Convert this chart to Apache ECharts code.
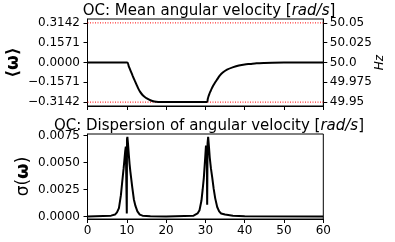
<!DOCTYPE html>
<html><head><meta charset="utf-8">
<script src="https://cdn.jsdelivr.net/npm/echarts@6/dist/echarts.min.js"></script>
<style>html,body{margin:0;padding:0;background:#fff}#c{width:395px;height:242px}</style>
</head><body><div id="c"></div>
<script>
// Top panel: mean angular velocity
const meanT = [0, 5, 10.1, 10.5, 11, 11.5, 12, 12.5, 12.9, 13.4, 14, 14.5, 15.1, 16, 17, 18, 19, 25, 30.4, 30.6, 30.8, 31.0, 31.3, 31.6, 32, 32.5, 33, 33.7, 34.5, 35.5, 37.1, 38.5, 40, 41.4, 43, 45, 47, 50, 60];
const meanW = [0, 0, 0, -0.03, -0.068, -0.106, -0.142, -0.177, -0.205, -0.233, -0.258, -0.272, -0.285, -0.299, -0.309, -0.3135, -0.3142, -0.3142, -0.3142, -0.29, -0.268, -0.25, -0.228, -0.207, -0.183, -0.157, -0.134, -0.102, -0.078, -0.057, -0.037, -0.024, -0.015, -0.011, -0.006, -0.003, -0.001, 0, 0];
const limitW = 0.3142;
const leftTicks = [-0.3142, -0.1571, 0, 0.1571, 0.3142];
const rightTicks = [49.95, 49.975, 50.0, 50.025, 50.05];
const rightLabels = ['49.95', '49.975', '50.0', '50.025', '50.05'];

// Bottom panel: dispersion of angular velocity
const dispT = [0, 6, 7, 7.5, 8, 8.5, 8.8, 9.0, 9.2, 9.4, 9.6, 9.75, 9.9, 10.0, 10.05, 10.15, 10.3, 10.5, 10.7, 10.9, 11.1, 11.4, 11.8, 12.2, 12.7, 13.3, 14, 16, 20, 27, 28, 28.5, 29, 29.3, 29.6, 29.9, 30.15, 30.35, 30.45, 30.55, 30.7, 30.9, 31.1, 31.4, 31.75, 32.1, 32.5, 33, 33.5, 34, 35, 37, 40, 60];
const dispS = [0.00003, 0.0001, 0.0002, 0.0004, 0.0008, 0.0020, 0.0031, 0.0038, 0.0045, 0.0053, 0.0061, 0.0065, 0.0064, 0.0003, 0.0072, 0.0074, 0.0068, 0.0058, 0.0049, 0.0042, 0.0036, 0.0027, 0.0016, 0.0010, 0.0005, 0.0002, 0.0001, 0.00005, 0.00003, 0.0001, 0.0003, 0.0006, 0.0015, 0.0025, 0.0036, 0.0052, 0.0066, 0.0062, 0.0011, 0.0068, 0.0074, 0.0065, 0.0055, 0.0045, 0.0036, 0.0026, 0.0017, 0.0009, 0.0005, 0.0003, 0.0002, 0.0001, 0.00005, 0.00003];
const dispTicks = [0, 0.0025, 0.005, 0.0075];
const xTicks = [0, 10, 20, 30, 40, 50, 60];

const FONT = 'DejaVu Sans';
const zip = (a, b) => a.map((v, i) => [v, b[i]]);
const fmtMinus = v => (v < 0 ? '\u2212' : '') + Math.abs(v).toFixed(4);

const axisBase = {
  axisLine: { show: true, onZero: false, lineStyle: { color: '#000', width: 1 } },
  axisTick: { show: true, length: 4, lineStyle: { color: '#000' } },
  splitLine: { show: false },
  axisLabel: { color: '#000', fontFamily: FONT, fontSize: 12, margin: 7 }
};
const titleStyle = { fontFamily: FONT, fontSize: 15, fontWeight: 'normal', color: '#000',
  rich: { i: { fontFamily: FONT, fontSize: 15, fontStyle: 'italic', color: '#000' } } };

const chart = echarts.init(document.getElementById('c'), null, { renderer: 'canvas' });
chart.setOption({
  animation: false,
  backgroundColor: '#fff',
  title: [
    { text: 'OC: Mean angular velocity [{i|rad/s}]', left: 204, top: -1, textAlign: 'center', textStyle: titleStyle },
    { text: 'OC: Dispersion of angular velocity [{i|rad/s}]', left: 204, top: 114, textAlign: 'center', textStyle: titleStyle }
  ],
  grid: [
    { left: 87.5, top: 19, width: 235.8, height: 87, show: true, borderColor: '#000', borderWidth: 1, backgroundColor: 'transparent', containLabel: false, outerBoundsMode: 'none' },
    { left: 87.5, top: 134, width: 235.8, height: 85, show: true, borderColor: '#000', borderWidth: 1, backgroundColor: 'transparent', containLabel: false, outerBoundsMode: 'none' }
  ],
  xAxis: [
    Object.assign({}, axisBase, { gridIndex: 0, type: 'value', min: 0, max: 60, interval: 10,
      axisLabel: { show: false } }),
    Object.assign({}, axisBase, { gridIndex: 1, type: 'value', min: 0, max: 60, interval: 10,
      axisLabel: { color: '#000', fontFamily: FONT, fontSize: 12, margin: 6 } })
  ],
  yAxis: [
    Object.assign({}, axisBase, { gridIndex: 0, type: 'value', position: 'left', min: -0.345, max: 0.345,
      axisTick: { show: true, length: 4, lineStyle: { color: '#000' }, customValues: leftTicks },
      axisLabel: { color: '#000', fontFamily: FONT, fontSize: 12, margin: 7.5, customValues: leftTicks, formatter: v => fmtMinus(v) },
      name: '\u27E8\u03C9\u27E9', nameLocation: 'middle', nameRotate: 90, nameGap: 65, nameMoveOverlap: false,
      nameTextStyle: { fontFamily: FONT, fontSize: 17, fontWeight: 'bold', color: '#000' } }),
    Object.assign({}, axisBase, { gridIndex: 0, type: 'value', position: 'right', min: 50 - 0.05 * 0.345 / 0.3142, max: 50 + 0.05 * 0.345 / 0.3142,
      axisTick: { show: true, length: 4, lineStyle: { color: '#000' }, customValues: rightTicks },
      axisLabel: { color: '#000', fontFamily: FONT, fontSize: 12, margin: 6.5, customValues: rightTicks,
        formatter: v => { const i = rightTicks.findIndex(t => Math.abs(t - v) < 1e-6); return i >= 0 ? rightLabels[i] : ''; } },
      name: 'Hz', nameLocation: 'middle', nameRotate: 90, nameGap: 51, nameMoveOverlap: false,
      nameTextStyle: { fontFamily: FONT, fontSize: 12, fontStyle: 'italic', color: '#000' } }),
    Object.assign({}, axisBase, { gridIndex: 1, type: 'value', position: 'left', min: -0.00021, max: 0.00766,
      axisTick: { show: true, length: 4, lineStyle: { color: '#000' }, customValues: dispTicks },
      axisLabel: { color: '#000', fontFamily: FONT, fontSize: 12, margin: 7.5, customValues: dispTicks, formatter: v => v.toFixed(4) },
      name: '{n|\u03C3(}{b|\u03C9}{n|)}', nameLocation: 'middle', nameRotate: 90, nameGap: 55, nameMoveOverlap: false,
      nameTextStyle: { fontFamily: FONT, fontSize: 17, color: '#000',
        rich: { n: { fontFamily: FONT, fontSize: 17, color: '#000' }, b: { fontFamily: FONT, fontSize: 18, fontWeight: 'bold', color: '#000' } } } })
  ],
  series: [
    { type: 'line', xAxisIndex: 0, yAxisIndex: 0, data: [[0, limitW], [60, limitW]], showSymbol: false, silent: true,
      lineStyle: { color: '#ff0000', width: 1, type: [1, 1.5] } },
    { type: 'line', xAxisIndex: 0, yAxisIndex: 0, data: [[0, -limitW], [60, -limitW]], showSymbol: false, silent: true,
      lineStyle: { color: '#ff0000', width: 1, type: [1, 1.5] } },
    { type: 'line', xAxisIndex: 0, yAxisIndex: 0, data: zip(meanT, meanW), showSymbol: false, smooth: 0.3,
      lineStyle: { color: '#000', width: 2 } },
    { type: 'line', xAxisIndex: 1, yAxisIndex: 2, data: zip(dispT, dispS), showSymbol: false,
      lineStyle: { color: '#000', width: 2 } }
  ]
});
</script>
</body></html>
